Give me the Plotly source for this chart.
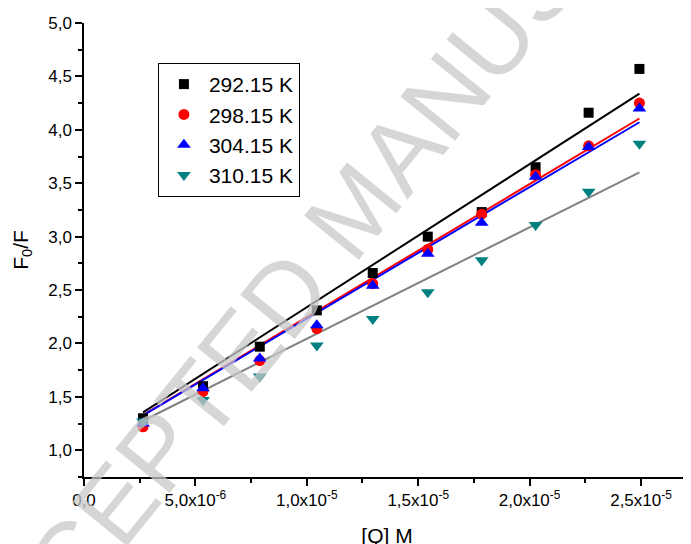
import numpy as np
import plotly.graph_objects as go

# ---- data ----
conc = [2.65e-6, 5.34e-6, 7.89e-6, 1.045e-5, 1.296e-5, 1.543e-5, 1.785e-5, 2.027e-5, 2.265e-5, 2.493e-5]
temps = ["292.15 K", "298.15 K", "304.15 K", "310.15 K"]
y_292 = [1.30, 1.60, 1.97, 2.31, 2.66, 3.00, 3.23, 3.65, 4.16, 4.57]
y_298 = [1.22, 1.55, 1.84, 2.14, 2.56, 2.88, 3.21, 3.58, 3.85, 4.25]
y_304 = [1.25, 1.58, 1.86, 2.17, 2.54, 2.84, 3.13, 3.56, 3.84, 4.20]
y_310 = [1.27, 1.47, 1.69, 1.98, 2.23, 2.48, 2.78, 3.11, 3.42, 3.87]

x_ticks = [0, 5e-6, 1e-5, 1.5e-5, 2e-5, 2.5e-5]
x_ticktext = ["0,0", "5,0x10<sup>-6</sup>", "1,0x10<sup>-5</sup>", "1,5x10<sup>-5</sup>",
              "2,0x10<sup>-5</sup>", "2,5x10<sup>-5</sup>"]
y_ticks = [1.0, 1.5, 2.0, 2.5, 3.0, 3.5, 4.0, 4.5, 5.0]
y_ticktext = ["1,0", "1,5", "2,0", "2,5", "3,0", "3,5", "4,0", "4,5", "5,0"]

series = [y_292, y_298, y_304, y_310]
marker_symbols = ["square", "circle", "triangle-up", "triangle-down"]
marker_colors = ["#000000", "#ff0000", "#0000ff", "#008080"]
marker_sizes = [10, 11, 12, 12]
line_colors = ["#000000", "#ff0000", "#0000ff", "#808080"]

FONT = "Liberation Sans, Arial, sans-serif"

fig = go.Figure()

x = np.array(conc)
xfit = np.array([conc[0], conc[-1]])
# Stern-Volmer fits: F0/F = 1 + Ksv [Q]
for ys, lc in zip(series, line_colors):
    yv = np.array(ys)
    k = np.sum(x * (yv - 1)) / np.sum(x * x)
    fig.add_trace(go.Scatter(x=xfit, y=1 + k * xfit, mode="lines",
                             line=dict(color=lc, width=2), showlegend=False,
                             hoverinfo="skip"))

for name, ys, sym, col, sz in zip(temps, series, marker_symbols, marker_colors, marker_sizes):
    fig.add_trace(go.Scatter(x=conc, y=ys, mode="markers", name=name,
                             marker=dict(symbol=sym, color=col, size=sz, line=dict(width=0))))

fig.add_annotation(text="ACCEPTED MANUSCRIPT", xref="paper", yref="paper",
                   x=0.447, y=0.59, showarrow=False, textangle=-51,
                   font=dict(family=FONT, size=102, color="rgba(200,200,200,0.75)"))

fig.update_layout(
    width=691, height=544,
    margin=dict(l=76, r=9, t=15, b=75),
    paper_bgcolor="white", plot_bgcolor="white",
    font=dict(family=FONT, color="black", size=17),
    showlegend=True,
    legend=dict(x=0.122, y=0.912, xanchor="left", yanchor="top",
                bgcolor="white", bordercolor="black", borderwidth=1,
                font=dict(family=FONT, size=21, color="black"),
                tracegroupgap=0, itemwidth=40),
    xaxis=dict(range=[0, 2.72e-5], showgrid=False, zeroline=False, automargin=False,
               showline=True, linecolor="black", linewidth=1.5,
               ticks="outside", ticklen=7, tickwidth=1.5, tickcolor="black",
               tickmode="array", tickvals=x_ticks, ticktext=x_ticktext,
               tickfont=dict(family=FONT, size=17),
               minor=dict(tickmode="linear", tick0=0, dtick=2.5e-6, ticks="outside",
                          ticklen=4, tickwidth=1.5, tickcolor="black", showgrid=False),
               title=dict(text="[Q] M", font=dict(family=FONT, size=21), standoff=19)),
    yaxis=dict(range=[0.75, 5.0], showgrid=False, zeroline=False, automargin=False,
               showline=True, linecolor="black", linewidth=1.5,
               ticks="outside", ticklen=7, tickwidth=1.5, tickcolor="black",
               tickmode="array", tickvals=y_ticks, ticktext=y_ticktext,
               tickfont=dict(family=FONT, size=17),
               minor=dict(tickmode="linear", tick0=0.75, dtick=0.25, ticks="outside",
                          ticklen=4, tickwidth=1.5, tickcolor="black", showgrid=False),
               title=dict(text="F<sub>0</sub>/F", font=dict(family=FONT, size=21), standoff=14)),
)

fig.write_html("out.html")
